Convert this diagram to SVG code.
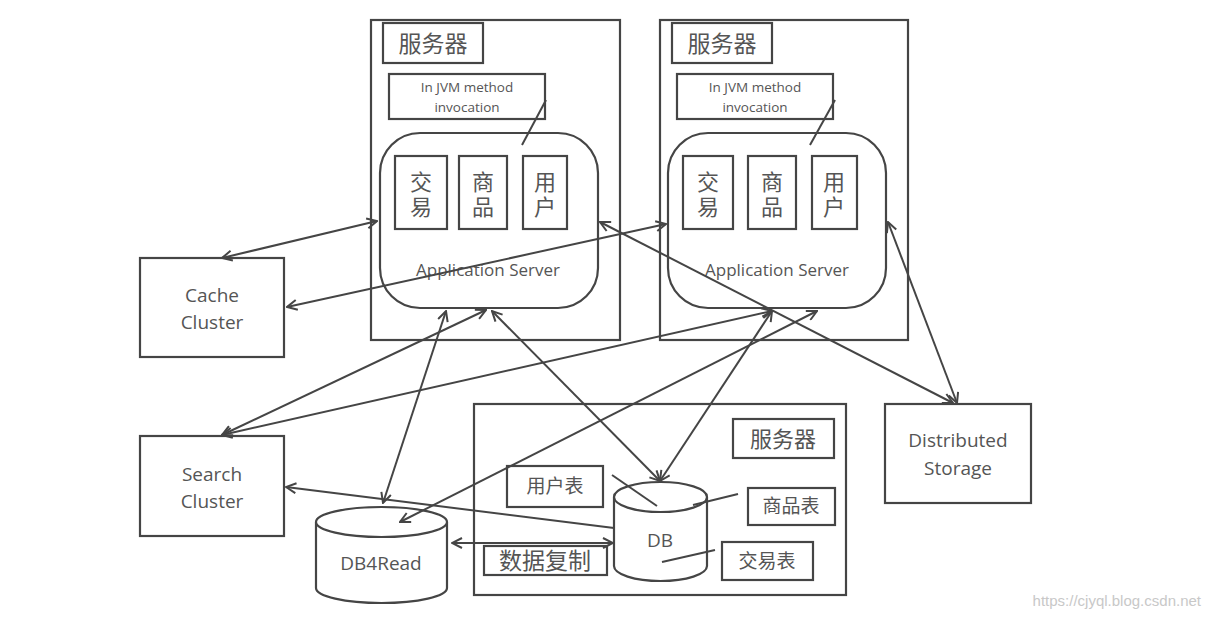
<svg xmlns="http://www.w3.org/2000/svg" width="1211" height="617" viewBox="0 0 1211 617">
<defs>
<marker id="ah" viewBox="0 0 12 12" refX="11" refY="6" markerWidth="12" markerHeight="12" markerUnits="userSpaceOnUse" orient="auto-start-reverse">
<path d="M1,1 L11,6 L1,11" fill="none" stroke="#454545" stroke-width="2"/>
</marker>
<style>
.box{fill:#fff;stroke:#454545;stroke-width:2.2}
.nb{fill:none;stroke:#454545;stroke-width:2.2}
.ln{fill:none;stroke:#454545;stroke-width:2}
.ar{fill:none;stroke:#454545;stroke-width:2;marker-start:url(#ah);marker-end:url(#ah)}
.ar1{fill:none;stroke:#454545;stroke-width:2;marker-end:url(#ah)}
.en{font-family:"Open Sans","Noto Sans",sans-serif;fill:#555;text-anchor:middle}
.cn{font-family:"Noto Sans CJK SC",sans-serif;fill:#555;text-anchor:middle}
.vt{font-family:"Noto Sans CJK SC",sans-serif;fill:#555;text-anchor:middle;writing-mode:vertical-rl;font-size:22px;letter-spacing:3px}
</style>
</defs>
<rect width="1211" height="617" fill="#fff"/>

<g id="server1">
<rect class="nb" x="371" y="20" width="249" height="320"/>
<rect class="nb" x="383" y="23" width="100" height="40"/>
<text class="cn" x="433" y="52" font-size="23">服务器</text>
<rect class="nb" x="389" y="74" width="156" height="45"/>
<text class="en" x="467" y="92" font-size="13.5">In JVM method</text>
<text class="en" x="467" y="112" font-size="13.5">invocation</text>
<line class="ln" x1="546" y1="100" x2="522" y2="145"/>
<rect class="nb" x="380" y="133" width="218" height="175" rx="40"/>
<rect class="nb" x="395" y="156" width="52" height="73"/>
<rect class="nb" x="459" y="156" width="48" height="73"/>
<rect class="nb" x="523" y="156" width="44" height="73"/>
<text class="vt" x="421" y="196">交易</text>
<text class="vt" x="483" y="196">商品</text>
<text class="vt" x="545" y="196">用户</text>
<text class="en" x="488" y="276" font-size="17">Application Server</text>
</g>

<g id="server2">
<rect class="nb" x="660" y="20" width="248" height="320"/>
<rect class="nb" x="672" y="23" width="100" height="40"/>
<text class="cn" x="722" y="52" font-size="23">服务器</text>
<rect class="nb" x="677" y="74" width="156" height="45"/>
<text class="en" x="755" y="92" font-size="13.5">In JVM method</text>
<text class="en" x="755" y="112" font-size="13.5">invocation</text>
<line class="ln" x1="835" y1="100" x2="810" y2="145"/>
<rect class="nb" x="668" y="133" width="218" height="175" rx="40"/>
<rect class="nb" x="683" y="156" width="50" height="73"/>
<rect class="nb" x="748" y="156" width="48" height="73"/>
<rect class="nb" x="812" y="156" width="45" height="73"/>
<text class="vt" x="708" y="196">交易</text>
<text class="vt" x="772" y="196">商品</text>
<text class="vt" x="834" y="196">用户</text>
<text class="en" x="777" y="276" font-size="17">Application Server</text>
</g>

<g id="dbserver">
<rect class="nb" x="474" y="404" width="372" height="191"/>
<rect class="nb" x="733" y="419" width="101" height="39"/>
<text class="cn" x="783" y="447" font-size="22">服务器</text>
<rect class="nb" x="507" y="466" width="96" height="41"/>
<text class="cn" x="555" y="493" font-size="19">用户表</text>
<rect class="nb" x="748" y="488" width="87" height="37"/>
<text class="cn" x="791" y="513" font-size="19">商品表</text>
<rect class="nb" x="722" y="542" width="91" height="38"/>
<text class="cn" x="767" y="568" font-size="19">交易表</text>
<rect class="nb" x="484" y="546" width="123" height="29"/>
<text class="cn" x="545" y="569" font-size="23">数据复制</text>
</g>

<g id="db">
<path class="box" d="M614,497 L614,566 A46.5,15 0 0 0 707,566 L707,497"/>
<ellipse class="box" cx="660.5" cy="497" rx="46.5" ry="15"/>
<text class="en" x="660" y="547" font-size="19">DB</text>
<line class="ln" x1="612" y1="475" x2="657" y2="506"/>
<line class="ln" x1="738" y1="494" x2="693" y2="505"/>
<line class="ln" x1="715" y1="550" x2="662" y2="562"/>
</g>

<g id="cache">
<rect class="nb" x="140" y="258" width="144" height="99"/>
<text class="en" x="212" y="302" font-size="19">Cache</text>
<text class="en" x="212" y="329" font-size="19">Cluster</text>
</g>

<g id="search">
<rect class="nb" x="140" y="436" width="144" height="100"/>
<text class="en" x="212" y="481" font-size="19">Search</text>
<text class="en" x="212" y="508" font-size="19">Cluster</text>
</g>

<g id="db4read">
<path class="box" d="M316,522 L316,588 A65.5,15 0 0 0 447,588 L447,522"/>
<ellipse class="box" cx="381.5" cy="522" rx="65.5" ry="15"/>
<text class="en" x="381" y="570" font-size="19">DB4Read</text>
</g>

<g id="storage">
<rect class="nb" x="885" y="404" width="146" height="99"/>
<text class="en" x="958" y="447" font-size="19">Distributed</text>
<text class="en" x="958" y="475" font-size="19">Storage</text>
</g>

<g id="connectors">
<line class="ar" x1="222" y1="258" x2="377" y2="221"/>
<line class="ar" x1="287" y1="307" x2="666" y2="224"/>
<line class="ar" x1="222" y1="435" x2="486" y2="310"/>
<line class="ar" x1="222" y1="435" x2="772" y2="311"/>
<line class="ar" x1="383" y1="503" x2="446" y2="311"/>
<line class="ar" x1="492" y1="311" x2="660" y2="481"/>
<line class="ar" x1="660" y1="481" x2="772" y2="311"/>
<line class="ar" x1="400" y1="522" x2="817" y2="311"/>
<line class="ar" x1="600" y1="222" x2="953" y2="403"/>
<line class="ar" x1="888" y1="222" x2="957" y2="403"/>
<line class="ar1" x1="614" y1="528" x2="286" y2="487"/>
<line class="ar" x1="452" y1="543" x2="613" y2="543"/>
</g>

<text x="1201" y="606" font-family="Liberation Sans, sans-serif" font-size="15" fill="#c8c8c8" text-anchor="end">https://cjyql.blog.csdn.net</text>
</svg>
